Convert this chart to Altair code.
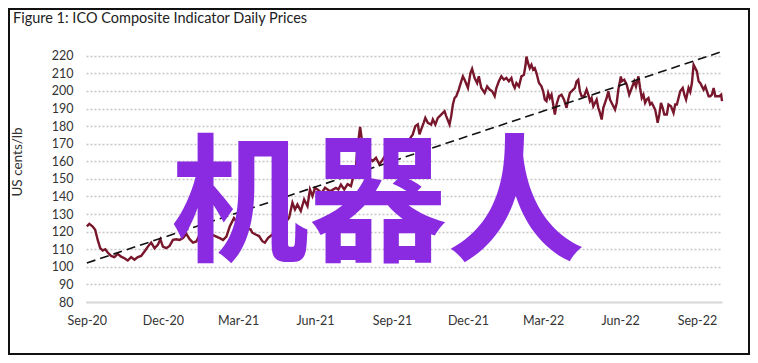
import altair as alt
import pandas as pd

# ---------------- data ----------------
title_text = "Figure 1: ICO Composite Indicator Daily Prices"
y_title = "US cents/lb"
watermark = ["机器人"]

start_date = "2020-09-01"
day_offsets = [0, 3, 7, 10, 13, 16, 19, 22, 25, 29, 33, 37, 41, 45, 49, 53, 57, 61, 65, 69,
               73, 77, 81, 85, 88, 91, 95, 99, 103, 107, 111, 115, 119, 123, 127, 131, 135, 137, 143, 149,
               155, 159, 163, 167, 171, 176, 179, 183, 187, 192, 196, 198, 202, 206, 210, 213, 217, 222, 227, 231,
               236, 242, 246, 249, 252, 256, 260, 264, 267, 270, 273, 276, 281, 285, 291, 298, 301, 304, 308, 312,
               316, 318, 320, 322, 324, 327, 329, 333, 337, 342, 346, 350, 354, 358, 362, 367, 372, 377, 381, 386,
               390, 393, 396, 398, 400, 403, 405, 408, 412, 414, 417, 420, 424, 428, 430, 434, 436, 438, 440, 442,
               445, 448, 450, 452, 456, 459, 461, 464, 467, 469, 472, 476, 479, 482, 485, 488, 490, 493, 496, 499,
               502, 505, 508, 510, 512, 514, 517, 520, 523, 525, 526, 528, 530, 532, 534, 536, 538, 541, 544, 546,
               548, 550, 552, 554, 556, 558, 560, 562, 565, 568, 571, 574, 576, 578, 582, 584, 586, 588, 590, 592,
               595, 598, 600, 602, 604, 606, 608, 610, 612, 614, 616, 618, 620, 622, 624, 626, 628, 630, 632, 634,
               636, 639, 640, 643, 646, 649, 652, 655, 657, 660, 662, 664, 666, 668, 670, 672, 674, 676, 678, 680,
               682, 683, 685, 687, 689, 691, 694, 696, 699, 702, 704, 706, 708, 710, 713, 715, 717, 720, 722, 724,
               726, 728, 730, 732, 734, 736, 738, 740, 742, 744, 746, 748, 750, 752, 754, 757, 759, 760]
prices = [123, 124.4, 122.9, 121, 115.3, 110.6, 109.3, 110, 108.1, 106.2, 105.5, 107.4, 105.8, 104.9, 103.6, 105.5, 104, 105.5, 106.2, 108.7,
          111.5, 113.8, 110.6, 112.5, 115.7, 111.5, 110.6, 111.9, 115.3, 115.7, 115.3, 116.3, 118.7, 115.7, 113.8, 114.4, 118.2, 119.1, 117.5, 118.5,
          117.2, 116.3, 115.3, 117.2, 122.9, 127.7, 125.8, 124.8, 122, 121.5, 121.3, 119.4, 118.4, 117.5, 114.6, 113.7, 116.5, 118.4, 120, 119,
          124, 127.9, 136.4, 132.6, 135.5, 131.7, 138.3, 134.5, 144, 140.2, 144.9, 144, 142, 145, 143, 144.9, 144, 146.8, 144, 147,
          145.9, 149.7, 153.4, 157.2, 168.6, 179.5, 172.4, 165, 162, 160.1, 162, 158.2, 161, 164, 166, 170, 168, 172, 170, 172.5,
          175.3, 180, 181, 175.3, 178, 181.9, 184.7, 181.9, 180.9, 183.8, 180.9, 184.7, 186.6, 188.5, 185.7, 180.9, 185.7, 192.3, 196, 197,
          200.8, 205.5, 208.3, 206.4, 201.7, 210.2, 212.6, 207.4, 204.5, 208.3, 201.7, 198.9, 202.6, 200.8, 199.8, 197, 201.7, 205.5, 208.3, 206.4,
          207.4, 205.5, 207.4, 203.6, 201.7, 204.5, 202.6, 208.3, 209.2, 214.9, 219.6, 215.8, 213, 214.9, 212.1, 213, 210.2, 204.5, 202.6, 199.8,
          195.1, 194.2, 198.9, 196, 197.9, 192.3, 186.6, 192.3, 197, 197.9, 195.1, 190.4, 195.1, 198.9, 200.8, 201.7, 205.5, 206.4, 199.8, 197,
          197, 200.8, 197.9, 194.2, 196, 191.3, 193.2, 195.1, 190.4, 187.5, 183.8, 190.4, 193.2, 196, 199.8, 195.1, 193.2, 191.3, 189.4, 193.2,
          200.8, 208.3, 205.5, 206.4, 203.6, 197.9, 201.7, 205.5, 202.6, 208.3, 201.7, 196, 197.9, 193.2, 195.1, 196, 192.3, 193.2, 191.3, 189.4,
          184.7, 181.9, 186.6, 193.2, 190.4, 186.6, 186.6, 192.3, 191.3, 187.5, 192.3, 192.3, 196, 199.8, 201.7, 197.9, 195.1, 201.7, 199.5, 204.5,
          214.9, 213, 211.1, 205.5, 204.5, 202.6, 200.8, 202.6, 199.8, 197, 197, 197.9, 201.7, 197, 197, 197, 197.9, 194.2]

trend_days = [0, 760]
trend_values = [102.2, 222.4]

y_ticks = [80, 90, 100, 110, 120, 130, 140, 150, 160, 170, 180, 190, 200, 210, 220]
x_tick_dates = [(2020, 9), (2020, 12), (2021, 3), (2021, 6), (2021, 9),
                (2021, 12), (2022, 3), (2022, 6), (2022, 9)]

assert len(day_offsets) == len(prices)

base = pd.Timestamp(start_date)


def to_dates(offsets):
    return [(base + pd.Timedelta(days=d)).strftime("%Y-%m-%dT00:00:00") for d in offsets]


price_df = pd.DataFrame({"date": to_dates(day_offsets), "price": prices})
trend_df = pd.DataFrame({"date": to_dates(trend_days), "price": trend_values})

FONT = "Lato"
LINE_COLOR = "#78172C"

x_scale = alt.Scale(domain=[alt.DateTime(year=2020, month=8, date=31),
                            alt.DateTime(year=2022, month=10, date=1)])
y_scale = alt.Scale(domain=[80, 225], nice=False, zero=False)

x_axis = alt.Axis(
    title=None,
    values=[alt.DateTime(year=y, month=m, date=1) for y, m in x_tick_dates],
    format="%b-%y",
    grid=False,
    ticks=False,
    domain=True,
    domainColor="#d9d9d9",
    domainWidth=2,
    labelPadding=12,
    labelFontSize=12.5,
    labelFont=FONT,
    labelColor="#333333",
    labelFlush=False,
    labelOverlap=False,
)
y_axis = alt.Axis(
    title=None,
    values=y_ticks,
    grid=True,
    gridColor="#c6c6c6",
    gridDash=[2, 2],
    gridWidth=1.6,
    ticks=False,
    domain=False,
    labelPadding=13,
    labelFontSize=12.5,
    labelFont=FONT,
    labelColor="#333333",
    labelOverlap=False,
)

X = alt.X("date:T", scale=x_scale, axis=x_axis)
Y = alt.Y("price:Q", scale=y_scale, axis=y_axis)

line = alt.Chart(price_df).mark_line(color=LINE_COLOR, strokeWidth=2.4, clip=False).encode(x=X, y=Y)

trend = alt.Chart(trend_df).mark_line(
    color="#111111", strokeWidth=1.6, strokeDash=[9, 5], clip=False
).encode(x=X, y=Y)

frame_df = pd.DataFrame({"k": [0]})
border = alt.Chart(frame_df).mark_rect(filled=False, stroke="#111111", strokeWidth=2).encode(
    x=alt.value(-77), x2=alt.value(663), y=alt.value(-38), y2=alt.value(307)
)

title_df = pd.DataFrame({"t": [title_text]})
title = alt.Chart(title_df).mark_text(
    align="left", baseline="alphabetic", font=FONT, fontSize=14.5, color="#222222"
).encode(text="t:N", x=alt.value(-73), y=alt.value(-24))

ytitle_df = pd.DataFrame({"t": [y_title]})
ytitle = alt.Chart(ytitle_df).mark_text(
    align="center", baseline="middle", angle=270, font=FONT, fontSize=13.5, color="#333333"
).encode(text="t:N", x=alt.value(-68), y=alt.value(115))

wm_df = pd.DataFrame({"t": watermark})
wm = alt.Chart(wm_df).mark_text(
    align="center", baseline="middle", font="Noto Sans CJK SC", fontWeight="bold",
    fontSize=138, color="#8A2BE2"
).encode(text="t:N", x=alt.value(292), y=alt.value(162))

chart = alt.layer(border, line, trend, title, ytitle, wm).properties(
    width=636,
    height=255,
    autosize=alt.AutoSizeParams(type="none"),
    padding={"left": 78, "top": 39, "right": 28, "bottom": 53},
    background="white",
).configure_view(stroke=None)

chart.save("out.html", embed_options={"renderer": "svg", "actions": False})
